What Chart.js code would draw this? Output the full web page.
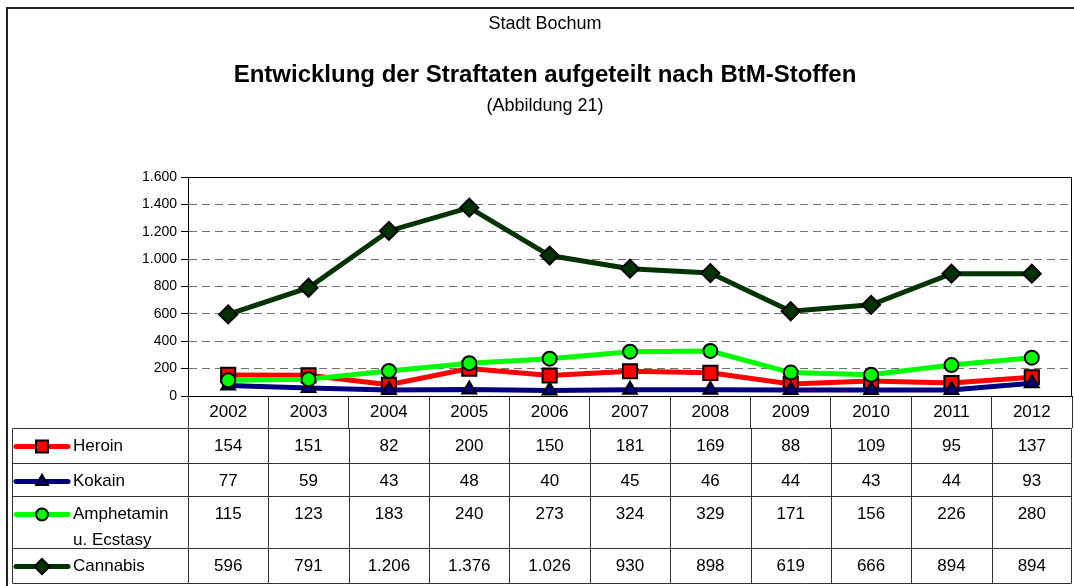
<!DOCTYPE html>
<html>
<head>
<meta charset="utf-8">
<title>Stadt Bochum - BtM-Stoffe</title>
<script src="https://cdn.jsdelivr.net/npm/chart.js@4.4.0/dist/chart.umd.min.js"></script>
<style>
	body { margin: 0; background: #fff; }
	canvas { display: block; }
</style>
</head>
<body>
<canvas id="lineChart" width="1074" height="586"></canvas>
<script>
"use strict";

// data
var years = ['2002', '2003', '2004', '2005', '2006', '2007', '2008', '2009', '2010', '2011', '2012'];
var heroin = [154, 151, 82, 200, 150, 181, 169, 88, 109, 95, 137];
var kokain = [77, 59, 43, 48, 40, 45, 46, 44, 43, 44, 93];
var amphetamin = [115, 123, 183, 240, 273, 324, 329, 171, 156, 226, 280];
var cannabis = [596, 791, 1206, 1376, 1026, 930, 898, 619, 666, 894, 894];
var yTicks = [0, 200, 400, 600, 800, 1000, 1200, 1400, 1600];
var seriesLabels = [['Heroin'], ['Kokain'], ['Amphetamin', 'u. Ecstasy'], ['Cannabis']];

var fontFamily = '"Liberation Sans", Arial, Helvetica, sans-serif';

function FormatNumber(value) {
	return String(value).replace(/\B(?=(\d{3})+(?!\d))/g, '.');
}

// titles and outer frame
var titlePlugin = {
	id: 'titles',
	afterDraw: function (chart) {
		var ctx = chart.ctx;
		ctx.save();
		ctx.strokeStyle = '#222';
		ctx.lineWidth = 2;
		ctx.strokeRect(7, 8, 1100, 620);

		ctx.fillStyle = '#000';
		ctx.textAlign = 'center';
		ctx.textBaseline = 'middle';
		ctx.font = '18px ' + fontFamily;
		ctx.fillText('Stadt Bochum', 545, 24);
		ctx.font = 'bold 24px ' + fontFamily;
		ctx.fillText('Entwicklung der Straftaten aufgeteilt nach BtM-Stoffen', 545, 75);
		ctx.font = '18px ' + fontFamily;
		ctx.fillText('(Abbildung 21)', 545, 106);
		ctx.restore();
	}
};

// data table under the x axis
var tablePlugin = {
	id: 'dataTable',
	afterDraw: function (chart) {
		var ctx = chart.ctx;
		var area = chart.chartArea;
		var xScale = chart.scales.x;
		var datasets = chart.data.datasets;
		var rowHeights = [35, 33, 52, 35];
		var tableLeft = 12.5;
		var tableTop = Math.round(area.bottom) + 32.5;
		var tableRight = Math.round(area.right) - 0.5;
		var step = xScale.getPixelForValue(1) - xScale.getPixelForValue(0);

		ctx.save();

		// right border of the plot
		ctx.strokeStyle = '#000';
		ctx.lineWidth = 1;
		ctx.beginPath();
		ctx.moveTo(tableRight, area.top);
		ctx.lineTo(tableRight, area.bottom);
		ctx.stroke();

		var total = 0;
		rowHeights.forEach(function (h) { total += h; });
		var tableBottom = tableTop + total;

		ctx.strokeStyle = '#333';
		ctx.beginPath();
		ctx.moveTo(tableLeft, tableTop);
		ctx.lineTo(tableRight, tableTop);
		var y = tableTop;
		rowHeights.forEach(function (h) {
			y += h;
			ctx.moveTo(tableLeft, y);
			ctx.lineTo(tableRight, y);
		});
		ctx.moveTo(tableLeft, tableTop);
		ctx.lineTo(tableLeft, tableBottom);
		for (var i = 0; i <= years.length; i++) {
			var bx = Math.round(xScale.getPixelForValue(i) - step / 2) + 0.5;
			if (i === years.length) bx = tableRight;
			ctx.moveTo(bx, tableTop);
			ctx.lineTo(bx, tableBottom);
		}
		ctx.stroke();

		ctx.font = '17px ' + fontFamily;
		ctx.fillStyle = '#000';
		ctx.textBaseline = 'middle';

		y = tableTop;
		datasets.forEach(function (ds, r) {
			var lineY = y + 18;

			// legend sample
			ctx.save();
			ctx.strokeStyle = ds.borderColor;
			ctx.lineWidth = 5;
			ctx.lineCap = 'round';
			ctx.beginPath();
			ctx.moveTo(16, lineY);
			ctx.lineTo(68, lineY);
			ctx.stroke();
			ctx.fillStyle = ds.pointBackgroundColor;
			ctx.strokeStyle = '#000';
			ctx.lineWidth = 2;
			Chart.helpers.drawPoint(ctx, {
				pointStyle: ds.pointStyle,
				radius: ds.pointRadius * 0.85,
				rotation: 0,
				borderWidth: 2
			}, 42, lineY);
			ctx.restore();

			ctx.textAlign = 'left';
			seriesLabels[r].forEach(function (text, k) {
				ctx.fillText(text, 73, lineY + k * 26);
			});

			ctx.textAlign = 'center';
			ds.data.forEach(function (v, i) {
				ctx.fillText(FormatNumber(v), xScale.getPixelForValue(i), lineY);
			});
			y += rowHeights[r];
		});

		ctx.restore();
	}
};

const context = document.getElementById('lineChart');
const myChart = new Chart(context, {
	type: 'line',
	data: {
		labels: years,
		datasets: [{
			label: 'Heroin',
			data: heroin,
			borderColor: '#ff0000',
			backgroundColor: '#ff0000',
			pointBackgroundColor: '#ff0000',
			pointBorderColor: '#000',
			pointBorderWidth: 2,
			pointStyle: 'rect',
			pointRadius: 10,
			borderWidth: 5,
			order: 4
		}, {
			label: 'Kokain',
			data: kokain,
			borderColor: '#000080',
			backgroundColor: '#000080',
			pointBackgroundColor: '#000080',
			pointBorderColor: '#000',
			pointBorderWidth: 2,
			pointStyle: 'triangle',
			pointRadius: 8,
			borderWidth: 5,
			order: 3
		}, {
			label: 'Amphetamin u. Ecstasy',
			data: amphetamin,
			borderColor: '#00ff00',
			backgroundColor: '#00ff00',
			pointBackgroundColor: '#00ff00',
			pointBorderColor: '#000',
			pointBorderWidth: 2,
			pointStyle: 'circle',
			pointRadius: 7,
			borderWidth: 5,
			order: 2
		}, {
			label: 'Cannabis',
			data: cannabis,
			borderColor: '#003300',
			backgroundColor: '#003300',
			pointBackgroundColor: '#003300',
			pointBorderColor: '#000',
			pointBorderWidth: 2,
			pointStyle: 'rectRot',
			pointRadius: 9,
			borderWidth: 5,
			order: 1
		}]
	},
	plugins: [titlePlugin, tablePlugin],
	options: {
		responsive: false,
		animation: false,
		layout: {
			autoPadding: false,
			padding: { top: 177, left: 0, right: 2, bottom: 158 }
		},
		plugins: {
			legend: { display: false },
			title: { display: false },
			tooltip: { enabled: false }
		},
		scales: {
			x: {
				offset: true,
				grid: {
					offset: true,
					drawOnChartArea: false,
					tickLength: 32,
					color: '#333',
					tickColor: '#333'
				},
				border: { color: '#000', width: 1 },
				ticks: {
					color: '#000',
					font: { family: fontFamily, size: 17 },
					padding: -26,
					maxRotation: 0,
					autoSkip: false
				},
				afterFit: function (scale) { scale.height = 32; }
			},
			y: {
				min: 0,
				max: 1600,
				afterBuildTicks: function (scale) {
					scale.ticks = yTicks.map(function (v) { return { value: v }; });
				},
				grid: {
					color: function (c) { return c.tick && c.tick.value === 1600 ? '#000' : '#707070'; },
					tickLength: 7,
					tickColor: '#000'
				},
				border: {
					color: '#000',
					width: 1,
					dash: function (c) { return c.tick && c.tick.value === 1600 ? [] : [8, 5]; }
				},
				ticks: {
					color: '#000',
					font: { family: fontFamily, size: 14 },
					padding: 4,
					callback: function (value) { return FormatNumber(value); }
				},
				afterFit: function (scale) { scale.width = 188; }
			}
		}
	}
});
</script>
</body>
</html>
